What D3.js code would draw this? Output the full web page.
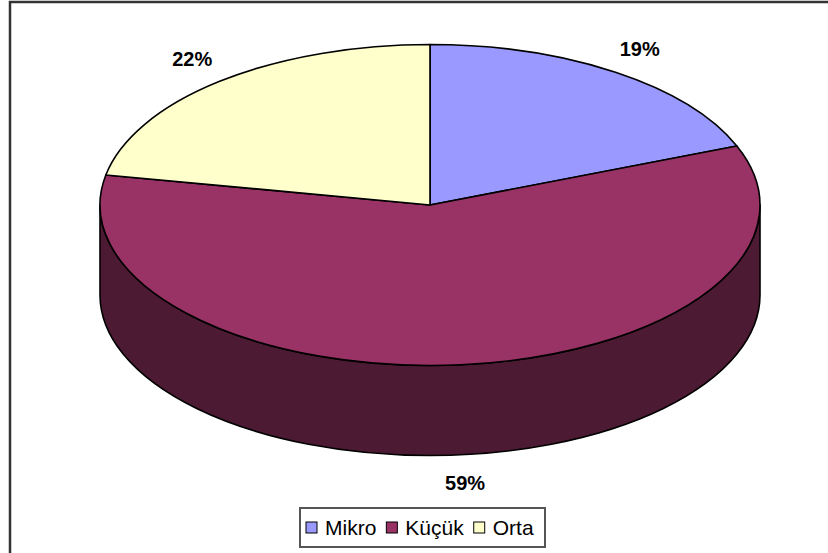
<!DOCTYPE html>
<html>
<head>
<meta charset="utf-8">
<script src="https://cdn.jsdelivr.net/npm/d3@7"></script>
<style>
  html, body { margin: 0; padding: 0; background: #fff; }
  svg { display: block; }
</style>
</head>
<body>
<svg id="chart" width="828" height="553"></svg>
<script>
const categories = ["Mikro", "Küçük", "Orta"];
const values = [19, 59, 22];
const labels = ["19%", "59%", "22%"];
const colors = ["#9999FF", "#993366", "#FFFFCC"];
const sideColors = ["#4D4D80", "#4C1A33", "#808066"];

const W = 828, H = 553;
const cx = 430, cy = 205, rx = 330, ry = 160.5, depth = 90;
const lrx = 373, lry = 189;

const svg = d3.select("#chart");

// outer frame (clipped at right/bottom like reference)
svg.append("rect").attr("x", 10).attr("y", 2).attr("width", 840).attr("height", 570)
  .attr("fill", "none").attr("stroke", "#333").attr("stroke-width", 2.5);

const pie = d3.pie().sort(null).value(d => d)
  .startAngle(0).endAngle(2 * Math.PI);
const arcs = pie(values);

const px = a => cx + rx * Math.sin(a);
const py = a => cy - ry * Math.cos(a);

// side walls (front half only)
arcs.forEach((d, i) => {
  const s = Math.max(d.startAngle, Math.PI / 2);
  const e = Math.min(d.endAngle, 3 * Math.PI / 2);
  if (e <= s) return;
  const large = (e - s) > Math.PI ? 1 : 0;
  const p = `M${px(s)},${py(s)} A${rx},${ry} 0 ${large} 1 ${px(e)},${py(e)}` +
    ` L${px(e)},${py(e) + depth} A${rx},${ry} 0 ${large} 0 ${px(s)},${py(s) + depth} Z`;
  svg.append("path").attr("d", p)
    .attr("fill", sideColors[i])
    .attr("stroke", "#000").attr("stroke-width", 1.6).attr("stroke-linejoin", "round");
});

// top faces
arcs.forEach((d, i) => {
  const s = d.startAngle, e = d.endAngle;
  const large = (e - s) > Math.PI ? 1 : 0;
  const p = `M${cx},${cy} L${px(s)},${py(s)} A${rx},${ry} 0 ${large} 1 ${px(e)},${py(e)} Z`;
  svg.append("path").attr("d", p)
    .attr("fill", colors[i])
    .attr("stroke", "#000").attr("stroke-width", 1.6).attr("stroke-linejoin", "round");
});

// percentage labels
arcs.forEach((d, i) => {
  const m = (d.startAngle + d.endAngle) / 2;
  const c = Math.cos(m);
  const x = cx + lrx * Math.sin(m);
  const y = cy - lry * c + (c < 0 ? depth : 0);
  svg.append("text").attr("x", x).attr("y", y)
    .attr("text-anchor", "middle").attr("dominant-baseline", "central")
    .attr("font-family", "Liberation Sans, Arial, sans-serif")
    .attr("font-weight", "bold").attr("font-size", 20)
    .attr("fill", "#000").text(labels[i]);
});

// legend
const lg = svg.append("g");
lg.append("rect").attr("x", 300).attr("y", 508).attr("width", 245).attr("height", 39)
  .attr("fill", "#fff").attr("stroke", "#555").attr("stroke-width", 2);
let lx = 306;
categories.forEach((c, i) => {
  lg.append("rect").attr("x", lx).attr("y", 522).attr("width", 11).attr("height", 11)
    .attr("fill", colors[i]).attr("stroke", "#000").attr("stroke-width", 1);
  const t = lg.append("text").attr("x", lx + 19).attr("y", 535)
    .attr("font-family", "Liberation Sans, Arial, sans-serif")
    .attr("font-size", 21).attr("fill", "#000").text(c);
  lx = lx + 19 + t.node().getComputedTextLength() + 10;
});
</script>
</body>
</html>
